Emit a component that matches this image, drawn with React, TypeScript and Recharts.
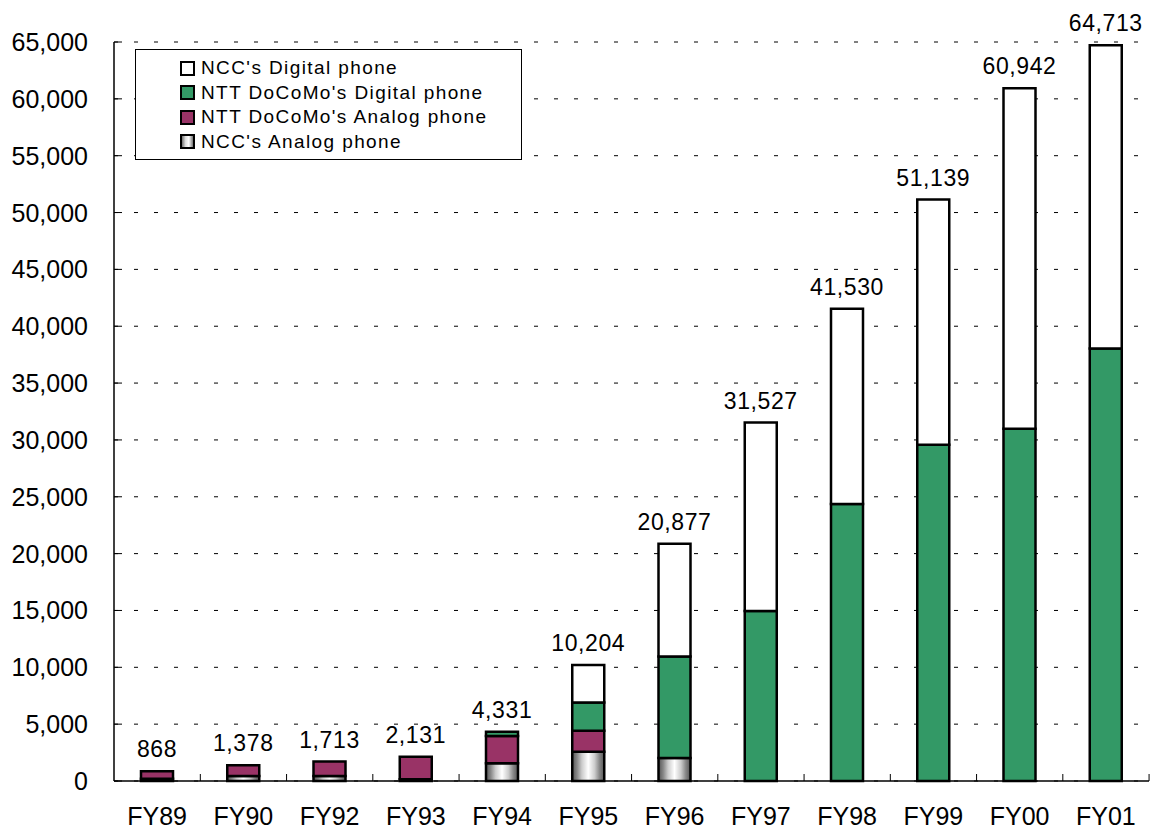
import React from 'react';
import { BarChart, Bar, XAxis, YAxis, CartesianGrid, Legend, LabelList } from 'recharts';

const categories = ['FY89', 'FY90', 'FY92', 'FY93', 'FY94', 'FY95', 'FY96', 'FY97', 'FY98', 'FY99', 'FY00', 'FY01'];
const totals = [868, 1378, 1713, 2131, 4331, 10204, 20877, 31527, 41530, 51139, 60942, 64713];
const nccAnalog = [200, 450, 450, 150, 1560, 2570, 2030, 0, 0, 0, 0, 0];
const nttAnalog = [668, 928, 1263, 1981, 2400, 1840, 0, 0, 0, 0, 0, 0];
const nttDigital = [0, 0, 0, 0, 371, 2490, 8920, 14950, 24370, 29570, 30980, 38050];
const nccDigital = [0, 0, 0, 0, 0, 3304, 9927, 16577, 17160, 21569, 29962, 26663];
const yTicks = [0, 5000, 10000, 15000, 20000, 25000, 30000, 35000, 40000, 45000, 50000, 55000, 60000, 65000];

const data = categories.map((name, i) => ({
  name,
  total: totals[i],
  nccAnalog: nccAnalog[i],
  nttAnalog: nttAnalog[i],
  nttDigital: nttDigital[i],
  nccDigital: nccDigital[i],
}));

// stacking order, bottom to top
const stackKeys = ['nccAnalog', 'nttAnalog', 'nttDigital', 'nccDigital'];

const FONT = '"Liberation Sans", Arial, sans-serif';
const GREEN = '#339966';
const PLUM = '#993366';
const fmt = (v: number) => v.toLocaleString('en-US');

const legendItems = [
  { label: "NCC's Digital phone", fill: '#ffffff' },
  { label: "NTT DoCoMo's Digital phone", fill: GREEN },
  { label: "NTT DoCoMo's Analog phone", fill: PLUM },
  { label: "NCC's Analog phone", fill: 'url(#lgStripe)' },
];

const LegendBox = () => (
  <div
    style={{
      width: 387,
      height: 111,
      border: '1px solid #000',
      background: '#fff',
      boxSizing: 'border-box',
      paddingTop: 6,
      paddingLeft: 44,
      fontFamily: FONT,
      fontSize: 19,
      letterSpacing: 1.4,
    }}
  >
    {legendItems.map((it) => (
      <div key={it.label} style={{ display: 'flex', alignItems: 'center', height: 24.5 }}>
        <svg width={16} height={15} style={{ marginRight: 5 }}>
          <defs>
            <linearGradient id="lgStripe" x1="0" x2="1" y1="0" y2="0">
              <stop offset="0" stopColor="#555" />
              <stop offset="0.35" stopColor="#ddd" />
              <stop offset="0.6" stopColor="#fff" />
              <stop offset="1" stopColor="#555" />
            </linearGradient>
          </defs>
          <rect x={1} y={1} width={13} height={13} fill={it.fill} stroke="#000" strokeWidth={2} />
        </svg>
        <span>{it.label}</span>
      </div>
    ))}
  </div>
);

const YTick = (props: any) => {
  const { x, y, payload } = props;
  return (
    <g>
      <line x1={x + 26} x2={x + 34} y1={y} y2={y} stroke="#000" />
      <text x={x} y={y} dy="0.36em" textAnchor="end" fontSize={25} fontFamily={FONT} fill="#000">
        {fmt(payload.value)}
      </text>
    </g>
  );
};

const XTick = (props: any) => {
  const { x, y, payload } = props;
  const axisY = y - 26;
  return (
    <g>
      <line x1={x + 43.2} x2={x + 43.2} y1={axisY} y2={axisY - 7} stroke="#000" />
      <text x={x} y={y} dy="0.71em" textAnchor="middle" fontSize={25} fontFamily={FONT} fill="#000">
        {payload.value}
      </text>
    </g>
  );
};

// draws the total above the stack, only from its topmost non-zero segment
const TotalLabel = (props: any) => {
  const { x, y, width, value, seg } = props;
  const row = value as any;
  if (!row || typeof row !== 'object') return null;
  const top = stackKeys.filter((k) => row[k] > 0).pop();
  if (top !== seg) return null;
  return (
    <text
      x={x + width / 2}
      y={y - 14}
      textAnchor="middle"
      fontSize={23}
      letterSpacing={0.6}
      fontFamily={FONT}
      fill="#000"
    >
      {fmt(row.total)}
    </text>
  );
};

const rowOf = (entry: any) => entry.payload;

const App = () => {
  return (
    <div style={{ width: 1154, height: 833, background: '#fff' }}>
      <style>{`body{margin:0;background:#fff}`}</style>
      <BarChart
        width={1154}
        height={833}
        data={data}
        margin={{ top: 42, right: 5, left: 0, bottom: 0 }}
        barSize={32}
      >
        <defs>
          <linearGradient id="stripe" x1="0" x2="1" y1="0" y2="0">
            <stop offset="0" stopColor="#555" />
            <stop offset="0.15" stopColor="#888" />
            <stop offset="0.3" stopColor="#ccc" />
            <stop offset="0.5" stopColor="#fff" />
            <stop offset="0.7" stopColor="#ccc" />
            <stop offset="0.85" stopColor="#888" />
            <stop offset="1" stopColor="#555" />
          </linearGradient>
        </defs>
        <CartesianGrid vertical={false} strokeDasharray="4 16" stroke="#000" />
        <XAxis
          dataKey="name"
          interval={0}
          height={52}
          tickLine={false}
          tickSize={6}
          tickMargin={20}
          axisLine={{ stroke: '#000', strokeWidth: 1.5 }}
          tick={<XTick />}
        />
        <XAxis
          xAxisId="top"
          dataKey="name"
          orientation="top"
          height={0}
          tick={false}
          tickLine={false}
          axisLine={{ stroke: '#000', strokeWidth: 1.5 }}
        />
        <YAxis
          domain={[0, 65000]}
          ticks={yTicks}
          interval={0}
          width={114}
          tickLine={false}
          tickSize={6}
          tickMargin={20}
          axisLine={{ stroke: '#000', strokeWidth: 1.5 }}
          tick={<YTick />}
        />
        <YAxis
          yAxisId="right"
          orientation="right"
          domain={[0, 65000]}
          width={0}
          tick={false}
          tickLine={false}
          axisLine={{ stroke: '#000', strokeWidth: 1.5 }}
        />
        <Legend
          layout="vertical"
          align="center"
          verticalAlign="middle"
          content={<LegendBox />}
          wrapperStyle={{ position: 'absolute', left: 135, top: 49, width: 'auto' }}
        />
        <Bar dataKey="nccAnalog" stackId="a" fill="url(#stripe)" stroke="#000" strokeWidth={2.5} isAnimationActive={false}>
          <LabelList valueAccessor={rowOf} content={<TotalLabel seg="nccAnalog" />} />
        </Bar>
        <Bar dataKey="nttAnalog" stackId="a" fill={PLUM} stroke="#000" strokeWidth={2.5} isAnimationActive={false}>
          <LabelList valueAccessor={rowOf} content={<TotalLabel seg="nttAnalog" />} />
        </Bar>
        <Bar dataKey="nttDigital" stackId="a" fill={GREEN} stroke="#000" strokeWidth={2.5} isAnimationActive={false}>
          <LabelList valueAccessor={rowOf} content={<TotalLabel seg="nttDigital" />} />
        </Bar>
        <Bar dataKey="nccDigital" stackId="a" fill="#ffffff" stroke="#000" strokeWidth={2.5} isAnimationActive={false}>
          <LabelList valueAccessor={rowOf} content={<TotalLabel seg="nccDigital" />} />
        </Bar>
      </BarChart>
    </div>
  );
};

export default App;
